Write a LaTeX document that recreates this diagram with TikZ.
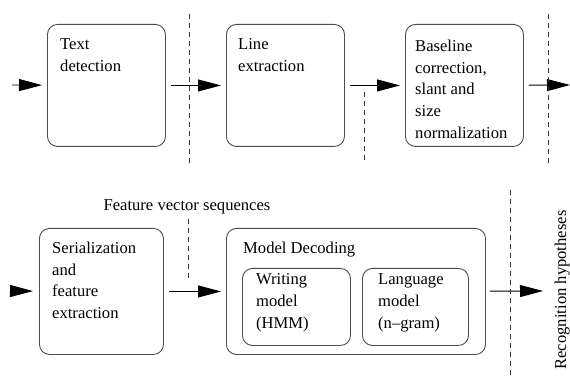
\documentclass[tikz,border=0pt]{standalone}
\usepackage{fontspec}
\setmainfont{Liberation Serif}
\usetikzlibrary{arrows.meta}
\begin{document}
\begin{tikzpicture}[x=1pt,y=-1pt,
  box/.style={draw=black!70, line width=0.9pt, rounded corners=10pt, anchor=north west, inner sep=0pt},
  txt/.style={anchor=north west, inner sep=0pt, align=left, font=\fontsize{16.6}{21.8}\selectfont},
  arr/.style={-{Triangle[length=23pt,width=12pt]}, line width=0.9pt},
  dsh/.style={dashed, dash pattern=on 5pt off 4pt, line width=0.9pt, black!80}]
\useasboundingbox (0,0) rectangle (570,379);
% row 1
\node[box, minimum width=118pt, minimum height=122pt] (b1) at (47,24) {};
\node[box, minimum width=118pt, minimum height=122pt] (b2) at (226,24) {};
\node[box, minimum width=118pt, minimum height=122pt] (b3) at (405,24) {};
\node[txt] (t1) at (60,38.5) {Text\\detection};
\node[txt] (t2) at (238,38.5) {Line\\extraction};
\node[txt] (t3) at (415,39.5) {Baseline\\correction,\\slant and\\size\\normalization};
\coordinate (in1) at (12,85);
\coordinate (out1) at (570,85);
\draw[arr, shorten >=5pt] (in1) -- (b1);
\draw[arr, shorten <=5pt, shorten >=5pt] (b1) -- (b2);
\draw[arr, shorten <=5pt, shorten >=5pt] (b2) -- (b3);
\draw[arr, shorten <=5pt] (b3) -- (out1);
\coordinate (d1a) at (189,14); \coordinate (d1b) at (189,163);
\coordinate (d2a) at (364,92); \coordinate (d2b) at (364,163);
\coordinate (d3a) at (548,14); \coordinate (d3b) at (548,163);
\draw[dsh] (d1a) -- (d1b);
\draw[dsh] (d2a) -- (d2b);
\draw[dsh] (d3a) -- (d3b);
% row 2
\node[txt, anchor=base] (fv) at (187,211) {Feature vector sequences};
\node[box, minimum width=124pt, minimum height=126pt] (b4) at (39,228) {};
\node[txt] (t4) at (52,241.5) {Serialization\\and\\feature\\extraction};
\node[box, minimum width=259pt, minimum height=126pt] (md) at (226,228) {};
\node[txt] (tmd) at (243,241.5) {Model Decoding};
\node[box, minimum width=108pt, minimum height=77pt] (wm) at (242,268) {};
\node[box, minimum width=106pt, minimum height=77pt] (lm) at (362,268) {};
\node[txt] (twm) at (256,273.5) {Writing\\model\\(HMM)};
\node[txt] (tlm) at (378,273.5) {Language\\model\\(n--gram)};
\coordinate (in2) at (10,291);
\coordinate (out2) at (543,291);
\draw[arr, shorten >=6pt] (in2) -- (b4);
\draw[arr, shorten <=5pt, shorten >=5pt] (b4) -- (md);
\draw[arr, shorten <=4pt] (md) -- (out2);
\coordinate (d4a) at (188,219); \coordinate (d4b) at (188,280);
\coordinate (d5a) at (510,190); \coordinate (d5b) at (510,379);
\draw[dsh] (d4a) -- (d4b);
\draw[dsh] (d5a) -- (d5b);
\node[txt, anchor=base, rotate=90] (rh) at (566,290) {Recognition hypotheses};
\end{tikzpicture}
\end{document}
